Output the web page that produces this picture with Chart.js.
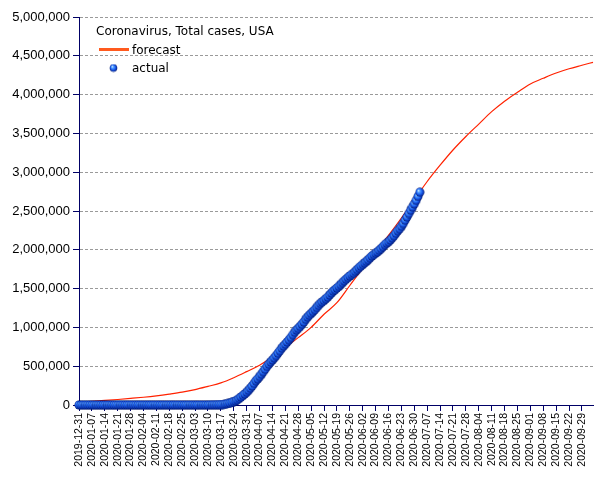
<!DOCTYPE html>
<html>
<head>
<meta charset="utf-8">
<script src="https://cdn.jsdelivr.net/npm/chart.js@4.4.1/dist/chart.umd.min.js"></script>
<style>
  html, body { margin: 0; padding: 0; background: #ffffff; }
  #wrap { width: 605px; height: 480px; }
</style>
</head>
<body>
<div id="wrap"><canvas id="c" width="605" height="480"></canvas></div>
<script>
// ---------------- DATA ----------------
const chartTitle = "Coronavirus, Total cases, USA";
const seriesNames = ["forecast", "actual"];

// weekly tick labels (one every 7 days, starting at day 0 = 2019-12-31)
const tickLabels = [
  "2019-12-31","2020-01-07","2020-01-14","2020-01-21","2020-01-28","2020-02-04",
  "2020-02-11","2020-02-18","2020-02-25","2020-03-03","2020-03-10","2020-03-17",
  "2020-03-24","2020-03-31","2020-04-07","2020-04-14","2020-04-21","2020-04-28",
  "2020-05-05","2020-05-12","2020-05-19","2020-05-26","2020-06-02","2020-06-09",
  "2020-06-16","2020-06-23","2020-06-30","2020-07-07","2020-07-14","2020-07-21",
  "2020-07-28","2020-08-04","2020-08-11","2020-08-18","2020-08-25","2020-09-01",
  "2020-09-08","2020-09-15","2020-09-22","2020-09-29"
];
const tickStepDays = 7;
const lastDay = 279; // 2020-10-05, right end of the axis

// actual daily totals, one per day from 2019-12-31 (day 0) to 2020-07-03 (day 185)
const actualDec31toJan20 = [0,0,0,0,0,0,0,0,0,0,0,0,0,0,0,0,0,0,0,0,0];
const actualJan21to31 = [1,1,1,2,2,5,5,5,5,5,6];
const actualFeb = [7,8,11,11,11,12,12,12,12,12,13,13,14,15,15,15,15,15,15,15,35,35,35,53,53,59,60,62,64];
const actualMar = [68,75,100,124,158,221,319,435,541,704,994,1301,1630,2183,2770,3613,4596,6344,9197,13779,
  19367,24192,33592,43505,53938,68211,85435,104126,123578,142538,164603];
const actualApr = [189618,216722,245540,277965,312237,337072,366667,396223,429052,461437,496535,526396,
  555313,580619,607670,636350,667801,699706,732197,759086,784326,811865,840351,869170,905358,938154,
  965785,988197,1012582,1039909];
const actualMay = [1069424,1103461,1132539,1158040,1180375,1204351,1229331,1257023,1283929,1309550,
  1329260,1347881,1369376,1390406,1417774,1442824,1467820,1486757,1508308,1528568,1551853,1577147,
  1600937,1622612,1643246,1662302,1680913,1699176,1721750,1746019,1770165];
const actualJun = [1790191,1811277,1831821,1851520,1872660,1897380,1920061,1938823,1956421,1973797,
  1994283,2016027,2041351,2066401,2085486,2104346,2127743,2154272,2181677,2213172,2245044,2271554,
  2302288,2338046,2381369,2422312,2467554,2510259,2549294,2590582];
const actualJul = [2636538,2687588,2742049];

// forecast (day index -> total cases)
const forecastDays = [0,7,14,21,28,35,42,49,56,63,70,77,84,91,98,105,112,119,126,133,140,147,154,
  161,168,175,182,189,196,203,210,217,224,231,238,245,252,259,266,273,279];
const forecastCases = [38000,48000,59000,71000,85000,100000,118000,140000,165000,198000,240000,285000,
  352000,430000,512000,620000,740000,868000,1000000,1170000,1318000,1540000,1760000,1970000,2185000,
  2410000,2645000,2880000,3090000,3286000,3460000,3620000,3780000,3915000,4030000,4137000,4210000,
  4278000,4333000,4378000,4416000];

const yTickStep = 500000;
const yMax = 5000000;

// ---------------- BUILD ----------------
const actualCases = [].concat(actualDec31toJan20, actualJan21to31, actualFeb, actualMar,
  actualApr, actualMay, actualJun, actualJul);
const actualPoints = actualCases.map((v, i) => ({ x: i, y: v }));
const forecastPoints = forecastDays.map((d, i) => ({ x: d, y: forecastCases[i] }));

// blue sphere marker
function makeSphere(r) {
  const s = Math.ceil(r * 2) + 1;
  const cv = document.createElement('canvas');
  cv.width = s; cv.height = s;
  const g = cv.getContext('2d');
  const c = s / 2;
  const grad = g.createRadialGradient(c - r * 0.35, c - r * 0.4, 0.3, c, c, r);
  grad.addColorStop(0, '#d6ecff');
  grad.addColorStop(0.25, '#56a2ff');
  grad.addColorStop(0.6, '#1d62f2');
  grad.addColorStop(0.85, '#0b34b0');
  grad.addColorStop(1, '#001a70');
  g.fillStyle = grad;
  g.beginPath(); g.arc(c, c, r, 0, Math.PI * 2); g.fill();
  return cv;
}
const sphere = makeSphere(4.5);
const legendSphere = makeSphere(3.8);

const AXIS = '#000066';
const fmt = v => v.toString().replace(/\B(?=(\d{3})+(?!\d))/g, ',');

const legendPlugin = {
  id: 'customLegend',
  afterDraw(chart) {
    const ctx = chart.ctx;
    ctx.save();
    ctx.fillStyle = '#000000';
    ctx.font = '12px "DejaVu Sans"';
    ctx.textBaseline = 'alphabetic';
    ctx.textAlign = 'left';
    ctx.fillText(chartTitle, 96, 35);
    // forecast swatch
    ctx.strokeStyle = '#ff5a1e';
    ctx.lineWidth = 3;
    ctx.beginPath(); ctx.moveTo(99, 49.5); ctx.lineTo(129, 49.5); ctx.stroke();
    ctx.fillText(seriesNames[0], 132, 54);
    // actual marker
    ctx.drawImage(legendSphere, 113.5 - legendSphere.width / 2, 68 - legendSphere.height / 2);
    ctx.fillText(seriesNames[1], 132, 72);
    ctx.restore();
  }
};

new Chart(document.getElementById('c'), {
  type: 'line',
  data: {
    datasets: [
      {
        label: seriesNames[1],
        data: actualPoints,
        showLine: false,
        pointStyle: sphere,
        pointRadius: 4.5,
        pointHoverRadius: 4.5,
        order: 0,
        clip: false
      },
      {
        label: seriesNames[0],
        data: forecastPoints,
        borderColor: '#ff2200',
        borderWidth: 1.2,
        pointRadius: 0,
        cubicInterpolationMode: 'monotone',
        fill: false,
        order: 1,
        clip: false
      }
    ]
  },
  options: {
    responsive: false,
    animation: false,
    events: [],
    layout: { padding: { top: 17, right: 12, left: 0, bottom: 0 } },
    plugins: { legend: { display: false }, tooltip: { enabled: false } },
    scales: {
      x: {
        type: 'linear',
        min: 0,
        max: lastDay,
        afterFit: s => { s.height = 75; },
        afterBuildTicks: s => { s.ticks = tickLabels.map((_, i) => ({ value: i * tickStepDays })); },
        ticks: {
          stepSize: tickStepDays,
          autoSkip: false,
          maxRotation: 90,
          minRotation: 90,
          padding: 2,
          color: '#000000',
          font: { family: '"Liberation Sans", Arial, sans-serif', size: 10.5 },
          callback: v => tickLabels[Math.round(v / tickStepDays)]
        },
        grid: {
          drawOnChartArea: false,
          drawTicks: true,
          tickLength: 6,
          tickColor: AXIS,
          tickWidth: 1
        },
        border: { display: true, color: AXIS, width: 1 }
      },
      y: {
        min: 0,
        max: yMax,
        afterFit: s => { s.width = 79; },
        ticks: {
          stepSize: yTickStep,
          padding: 3,
          color: '#000000',
          font: { family: '"Liberation Sans", Arial, sans-serif', size: 13 },
          callback: v => fmt(v)
        },
        grid: {
          color: c => (c.tick && c.tick.value === 0) ? 'rgba(0,0,0,0)' : '#9a9a9a',
          lineWidth: 1,
          drawTicks: true,
          tickLength: 6,
          tickColor: AXIS,
          tickWidth: 1
        },
        border: { display: true, color: AXIS, width: 1, dash: [3, 2] }
      }
    }
  },
  plugins: [legendPlugin]
});
</script>
</body>
</html>
